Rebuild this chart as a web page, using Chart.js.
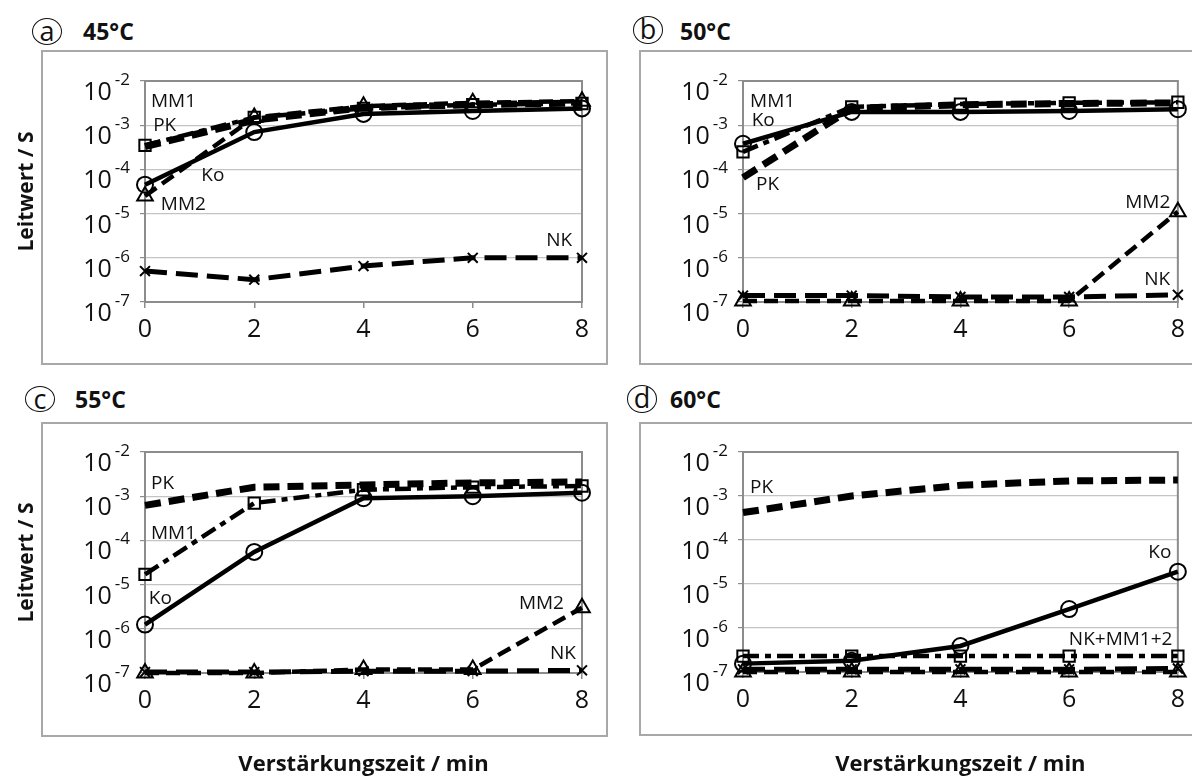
<!DOCTYPE html>
<html>
<head>
<meta charset="utf-8">
<script src="https://cdn.jsdelivr.net/npm/chart.js@4.4.1/dist/chart.umd.min.js"></script>
<style>
  body { margin: 0; width: 1192px; height: 778px; background: #fff; position: relative; overflow: hidden; font-family: "Open Sans", sans-serif; color: #111; }
  canvas { position: absolute; }
  .box { position: absolute; border: 2px solid #a8a8a8; box-sizing: border-box; pointer-events: none; }
  .circ { position: absolute; border: 1.5px solid #111; border-radius: 50%; box-sizing: border-box; font-size: 27px; line-height: 23px; text-align: center; }
  .temp { position: absolute; font-weight: bold; font-size: 23px; line-height: 1; }
</style>
</head>
<body>

<div class="circ" style="left:32px;top:18px;width:30px;height:27px;">a</div>
<div class="temp" style="left:83px;top:20px;">45°C</div>
<div class="circ" style="left:633px;top:16px;width:30px;height:28px;">b</div>
<div class="temp" style="left:680px;top:20px;">50°C</div>
<div class="circ" style="left:25px;top:386px;width:30px;height:26px;">c</div>
<div class="temp" style="left:75px;top:388px;">55°C</div>
<div class="circ" style="left:627px;top:385px;width:30px;height:28px;">d</div>
<div class="temp" style="left:670px;top:388px;">60°C</div>

<canvas id="chartA" width="620" height="320" style="left:0;top:50px;width:620px;height:320px;"></canvas>
<canvas id="chartB" width="572" height="320" style="left:620px;top:50px;width:572px;height:320px;"></canvas>
<canvas id="chartC" width="620" height="356" style="left:0;top:422px;width:620px;height:356px;"></canvas>
<canvas id="chartD" width="572" height="356" style="left:620px;top:422px;width:572px;height:356px;"></canvas>

<div class="box" style="left:41px;top:50px;width:567px;height:315px;"></div>
<div class="box" style="left:639px;top:50px;width:600px;height:315px;"></div>
<div class="box" style="left:41px;top:422px;width:567px;height:315px;"></div>
<div class="box" style="left:639px;top:422px;width:600px;height:314px;"></div>

<script>
// x values (Verstärkungszeit / min) and decade ticks of the log axis
const times = [0, 2, 4, 6, 8];
const yTicks = [1e-7, 1e-6, 1e-5, 1e-4, 1e-3, 1e-2];
const yExponents = ['-7', '-6', '-5', '-4', '-3', '-2'];

// a) 45°C
const a_NK  = [5.0e-7, 3.2e-7, 6.5e-7, 1.0e-6, 1.0e-6];
const a_MM2 = [2.5e-5, 1.5e-3, 2.7e-3, 3.2e-3, 3.5e-3];
const a_MM1 = [3.5e-4, 1.5e-3, 2.4e-3, 2.9e-3, 3.1e-3];
const a_PK  = [3.3e-4, 1.3e-3, 2.5e-3, 2.9e-3, 3.2e-3];
const a_Ko  = [4.5e-5, 7.0e-4, 1.8e-3, 2.1e-3, 2.4e-3];

// b) 50°C
const b_NK  = [1.4e-7, 1.4e-7, 1.3e-7, 1.3e-7, 1.45e-7];
const b_MM2 = [1.05e-7, 1.05e-7, 1.05e-7, 1.05e-7, 1.1e-5];
const b_MM1 = [2.5e-4, 2.6e-3, 3.0e-3, 3.2e-3, 3.3e-3];
const b_PK  = [6.5e-5, 2.4e-3, 2.9e-3, 3.1e-3, 3.2e-3];
const b_Ko  = [3.8e-4, 2.0e-3, 2.0e-3, 2.1e-3, 2.3e-3];

// c) 55°C
const c_NK  = [1.05e-7, 1.05e-7, 1.1e-7, 1.1e-7, 1.15e-7];
const c_MM2 = [1.0e-7, 1.0e-7, 1.2e-7, 1.2e-7, 3.0e-6];
const c_MM1 = [1.7e-5, 7.0e-4, 1.4e-3, 1.6e-3, 1.7e-3];
const c_PK  = [6.2e-4, 1.6e-3, 1.8e-3, 2.0e-3, 2.1e-3];
const c_Ko  = [1.25e-6, 5.5e-5, 9.0e-4, 1.0e-3, 1.2e-3];

// d) 60°C
const d_NK  = [1.15e-7, 1.15e-7, 1.15e-7, 1.15e-7, 1.2e-7];
const d_MM2 = [1.0e-7, 1.0e-7, 1.0e-7, 1.0e-7, 1.0e-7];
const d_MM1 = [2.3e-7, 2.3e-7, 2.3e-7, 2.3e-7, 2.3e-7];
const d_PK  = [4.2e-4, 1.0e-3, 1.75e-3, 2.2e-3, 2.3e-3];
const d_Ko  = [1.55e-7, 1.8e-7, 3.9e-7, 2.7e-6, 1.9e-5];

// series labels written into the plots: [text, x, y, align]
const notesA = [['MM1', 0.11, 3.5e-3, 'left'], ['PK', 0.15, 1.0e-3, 'left'], ['Ko', 1.03, 7.4e-5, 'left'], ['MM2', 0.29, 1.6e-5, 'left'], ['NK', 7.82, 2.4e-6, 'right']];
const notesB = [['MM1', 0.13, 3.5e-3, 'left'], ['Ko', 0.16, 1.25e-3, 'left'], ['PK', 0.24, 4.5e-5, 'left'], ['MM2', 7.86, 1.8e-5, 'right'], ['NK', 7.86, 3.2e-7, 'right']];
const notesC = [['PK', 0.11, 1.9e-3, 'left'], ['MM1', 0.11, 1.4e-4, 'left'], ['Ko', 0.07, 4.7e-6, 'left'], ['MM2', 7.67, 3.8e-6, 'right'], ['NK', 7.89, 2.8e-7, 'right']];
const notesD = [['PK', 0.13, 1.55e-3, 'left'], ['Ko', 7.88, 5.2e-5, 'right'], ['NK+MM1+2', 7.9, 5.5e-7, 'right']];

const seriesStyle = {
  NK:  { borderWidth: 5, borderDash: [22, 9], pointStyle: 'crossRot', pointRadius: 7 },
  MM2: { borderWidth: 4.5, borderDash: [14, 7], pointStyle: 'triangle', pointRadius: 9 },
  MM1: { borderWidth: 4.5, borderDash: [16, 6, 6, 6], pointStyle: 'rect', pointRadius: 8 },
  PK:  { borderWidth: 7, borderDash: [16, 8], pointStyle: 'circle', pointRadius: 0 },
  Ko:  { borderWidth: 4.5, borderDash: [], pointStyle: 'circle', pointRadius: 8 }
};

const FONT = '"Open Sans", sans-serif';

// frame around the plot area (top and right edges included)
const framePlugin = {
  id: 'frame',
  beforeDatasetsDraw(chart) {
    const { ctx, chartArea: c } = chart;
    ctx.save();
    ctx.strokeStyle = '#8c8c8c';
    ctx.lineWidth = 2;
    ctx.strokeRect(c.left, c.top, c.right - c.left, c.bottom - c.top);
    ctx.restore();
  }
};

// 10 with superscript exponent at every decade
const expLabelPlugin = {
  id: 'expLabels',
  afterDraw(chart) {
    const { ctx, chartArea, scales: { y } } = chart;
    ctx.save();
    ctx.fillStyle = '#111';
    ctx.textBaseline = 'alphabetic';
    yTicks.forEach((v, i) => {
      const py = y.getPixelForValue(v);
      ctx.font = '17px ' + FONT;
      ctx.textAlign = 'right';
      const expRight = chartArea.left - 15;
      ctx.fillText(yExponents[i], expRight, py + 4);
      const w = ctx.measureText(yExponents[i]).width;
      ctx.font = '25px ' + FONT;
      ctx.fillText('10', expRight - w - 3, py + 19);
    });
    ctx.restore();
  }
};

const notesPlugin = {
  id: 'notes',
  afterDatasetsDraw(chart, args, opts) {
    const { ctx, scales: { x, y } } = chart;
    ctx.save();
    ctx.font = '19px ' + FONT;
    ctx.fillStyle = '#111';
    ctx.textBaseline = 'middle';
    (opts.items || []).forEach(([text, nx, ny, align]) => {
      ctx.textAlign = align;
      ctx.fillText(text, x.getPixelForValue(nx), y.getPixelForValue(ny));
    });
    ctx.restore();
  }
};

function makeDataset(name, values) {
  const s = seriesStyle[name];
  return {
    label: name,
    data: times.map((t, i) => ({ x: t, y: values[i] })),
    borderColor: '#000',
    backgroundColor: 'rgba(0,0,0,0)',
    borderWidth: s.borderWidth,
    borderDash: s.borderDash,
    pointStyle: s.pointStyle,
    pointRadius: s.pointRadius,
    pointBorderColor: '#000',
    pointBackgroundColor: 'rgba(0,0,0,0)',
    pointBorderWidth: 2,
    tension: 0,
    clip: false
  };
}

function makePanel(id, series, notes, opt) {
  new Chart(document.getElementById(id), {
    type: 'line',
    data: {
      datasets: [
        makeDataset('NK', series.NK),
        makeDataset('MM2', series.MM2),
        makeDataset('MM1', series.MM1),
        makeDataset('PK', series.PK),
        makeDataset('Ko', series.Ko)
      ]
    },
    options: {
      responsive: false,
      animation: false,
      devicePixelRatio: 1,
      layout: { padding: { left: 0, right: opt.padRight, top: opt.padTop, bottom: 0 } },
      plugins: {
        legend: { display: false },
        tooltip: { enabled: false },
        notes: { items: notes }
      },
      scales: {
        x: {
          type: 'linear',
          min: 0,
          max: 8,
          afterBuildTicks: s => { s.ticks = times.map(v => ({ value: v })); },
          afterFit: s => { s.height = opt.xHeight; },
          grid: { drawOnChartArea: false, drawTicks: true, tickLength: 6, tickColor: '#8c8c8c', lineWidth: 1.5 },
          border: { color: '#8c8c8c', width: 2 },
          ticks: { color: '#111', font: { family: FONT, size: 25 }, padding: 7 },
          title: {
            display: opt.xTitle,
            text: 'Verstärkungszeit / min',
            color: '#111',
            font: { family: FONT, size: 22, weight: 'bold' },
            padding: { top: 0, bottom: 0 }
          }
        },
        y: {
          type: 'logarithmic',
          min: 1e-7,
          max: 1e-2,
          afterBuildTicks: s => { s.ticks = yTicks.map(v => ({ value: v })); },
          afterFit: s => { s.width = opt.yWidth; },
          grid: { color: '#c4c4c4', lineWidth: 1.2, drawTicks: true, tickLength: 5, tickColor: '#8c8c8c' },
          border: { color: '#8c8c8c', width: 2 },
          ticks: { display: false },
          title: {
            display: opt.yTitle,
            text: 'Leitwert / S',
            color: '#111',
            font: { family: FONT, size: 21, weight: 'bold' },
            padding: { top: 14, bottom: 0 }
          }
        }
      }
    },
    plugins: [framePlugin, expLabelPlugin, notesPlugin]
  });
}

makePanel('chartA', { NK: a_NK, MM2: a_MM2, MM1: a_MM1, PK: a_PK, Ko: a_Ko }, notesA,
  { padRight: 38, padTop: 31, xHeight: 68, yWidth: 145, yTitle: true, xTitle: false });
makePanel('chartB', { NK: b_NK, MM2: b_MM2, MM1: b_MM1, PK: b_PK, Ko: b_Ko }, notesB,
  { padRight: 12, padTop: 31, xHeight: 68, yWidth: 123, yTitle: false, xTitle: false });
makePanel('chartC', { NK: c_NK, MM2: c_MM2, MM1: c_MM1, PK: c_PK, Ko: c_Ko }, notesC,
  { padRight: 38, padTop: 30, xHeight: 105, yWidth: 145, yTitle: true, xTitle: true });
makePanel('chartD', { NK: d_NK, MM2: d_MM2, MM1: d_MM1, PK: d_PK, Ko: d_Ko }, notesD,
  { padRight: 13, padTop: 30, xHeight: 106, yWidth: 123, yTitle: false, xTitle: true });
</script>
</body>
</html>
